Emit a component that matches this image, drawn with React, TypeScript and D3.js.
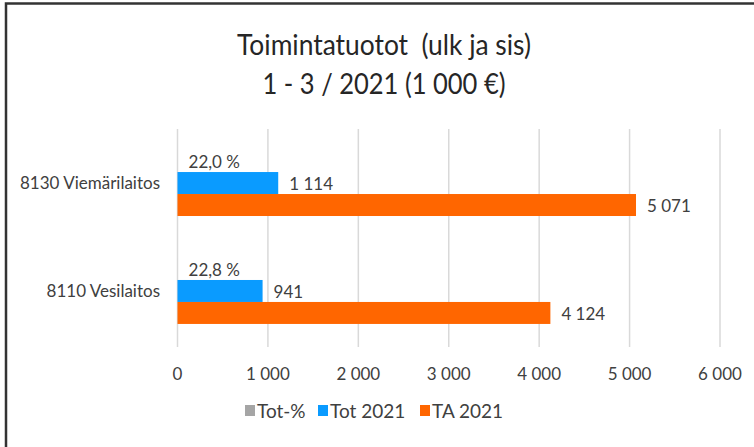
import * as d3 from "d3";
import React, { useEffect, useRef } from "react";

const categories = ["8130 Viemärilaitos", "8110 Vesilaitos"];
const totPct = [0.22, 0.228];
const tot2021 = [1114, 941];
const ta2021 = [5071, 4124];
const xTicks = [0, 1000, 2000, 3000, 4000, 5000, 6000];
const seriesNames = ["Tot-%", "Tot 2021", "TA 2021"];
const seriesColors = ["#A5A5A5", "#0A9BFF", "#FF6600"];
const titleLines = ["Toimintatuotot  (ulk ja sis)", "1 - 3 / 2021 (1 000 €)"];

const FONT = "Lato, 'Open Sans', sans-serif";

function App() {
  const ref = useRef<SVGSVGElement>(null);

  useEffect(() => {
    document.body.style.margin = "0";
    const width = 754;
    const height = 447;
    const svg = d3.select(ref.current);
    svg.selectAll("*").remove();

    svg.append("rect").attr("width", width).attr("height", height).attr("fill", "#fff");
    // frame, only left and top edge are in the picture
    svg.append("path")
      .attr("d", `M6,${height} V3.5 H${width}`)
      .attr("fill", "none")
      .attr("stroke", "#333")
      .attr("stroke-width", 2.5);

    // title (Calibri-like narrow look -> squeeze with textLength)
    const titleWidths = [294, 243];
    svg.append("g")
      .selectAll("text")
      .data(titleLines)
      .join("text")
      .attr("x", 384)
      .attr("y", (_, i) => 55 + i * 39)
      .attr("text-anchor", "middle")
      .attr("font-family", FONT)
      .attr("font-size", 28)
      .attr("fill", "#262626")
      .attr("textLength", (_, i) => titleWidths[i])
      .attr("lengthAdjust", "spacingAndGlyphs")
      .style("white-space", "pre")
      .text((d) => d);

    const left = 177.5, right = 720, top = 129, bottom = 345;
    const x = d3.scaleLinear().domain([0, 6000]).range([left, right]);
    const y = d3.scaleBand().domain(categories).range([top, bottom]).paddingInner(0.389).paddingOuter(0.195);
    const sub = d3.scaleBand().domain(seriesNames).range([0, y.bandwidth()]);

    const fmtNum = (v: number) => d3.format(",")(v).replace(/,/g, " ");
    const fmtPct = (v: number) => (v * 100).toFixed(1).replace(".", ",") + " %";

    // gridlines
    svg.append("g")
      .selectAll("line")
      .data(xTicks)
      .join("line")
      .attr("x1", (d) => x(d))
      .attr("x2", (d) => x(d))
      .attr("y1", top)
      .attr("y2", bottom + 2)
      .attr("stroke", "#D9D9D9")
      .attr("stroke-width", 1.5);

    // tick labels
    svg.append("g")
      .selectAll("text")
      .data(xTicks)
      .join("text")
      .attr("x", (d) => x(d))
      .attr("y", 380)
      .attr("text-anchor", "middle")
      .attr("font-family", FONT)
      .attr("font-size", 17)
      .attr("fill", "#404040")
      .text((d) => fmtNum(d));

    // category labels
    svg.append("g")
      .selectAll("text")
      .data(categories)
      .join("text")
      .attr("x", 160)
      .attr("y", (d) => (y(d) as number) + y.bandwidth() / 2 + 6)
      .attr("text-anchor", "end")
      .attr("font-family", FONT)
      .attr("font-size", 17)
      .attr("fill", "#404040")
      .text((d) => d);

    const series = [
      { name: seriesNames[0], values: totPct, color: seriesColors[0], fmt: fmtPct },
      { name: seriesNames[1], values: tot2021, color: seriesColors[1], fmt: fmtNum },
      { name: seriesNames[2], values: ta2021, color: seriesColors[2], fmt: fmtNum },
    ];

    series.forEach((s) => {
      const g = svg.append("g");
      g.selectAll("rect")
        .data(s.values)
        .join("rect")
        .attr("x", x(0))
        .attr("y", (_, i) => (y(categories[i]) as number) + (sub(s.name) as number))
        .attr("width", (d) => Math.max(0, x(d) - x(0)))
        .attr("height", sub.bandwidth())
        .attr("fill", s.color);
      g.selectAll("text")
        .data(s.values)
        .join("text")
        .attr("x", (d) => x(d) + 11)
        .attr("y", (_, i) => (y(categories[i]) as number) + (sub(s.name) as number) + sub.bandwidth() / 2 + 7)
        .attr("font-family", FONT)
        .attr("font-size", 17)
        .attr("fill", "#404040")
        .text((d) => s.fmt(d));
    });

    // legend
    const legendX = [245, 318, 420];
    const legend = svg.append("g");
    series.forEach((s, i) => {
      legend.append("rect")
        .attr("x", legendX[i])
        .attr("y", 405)
        .attr("width", 10)
        .attr("height", 11)
        .attr("fill", s.color);
      legend.append("text")
        .attr("x", legendX[i] + 12)
        .attr("y", 417.5)
        .attr("font-family", FONT)
        .attr("font-size", 19)
        .attr("fill", "#404040")
        .text(s.name);
    });
  }, []);

  return <svg ref={ref} width={754} height={447} style={{ display: "block" }} />;
}

export default App;
